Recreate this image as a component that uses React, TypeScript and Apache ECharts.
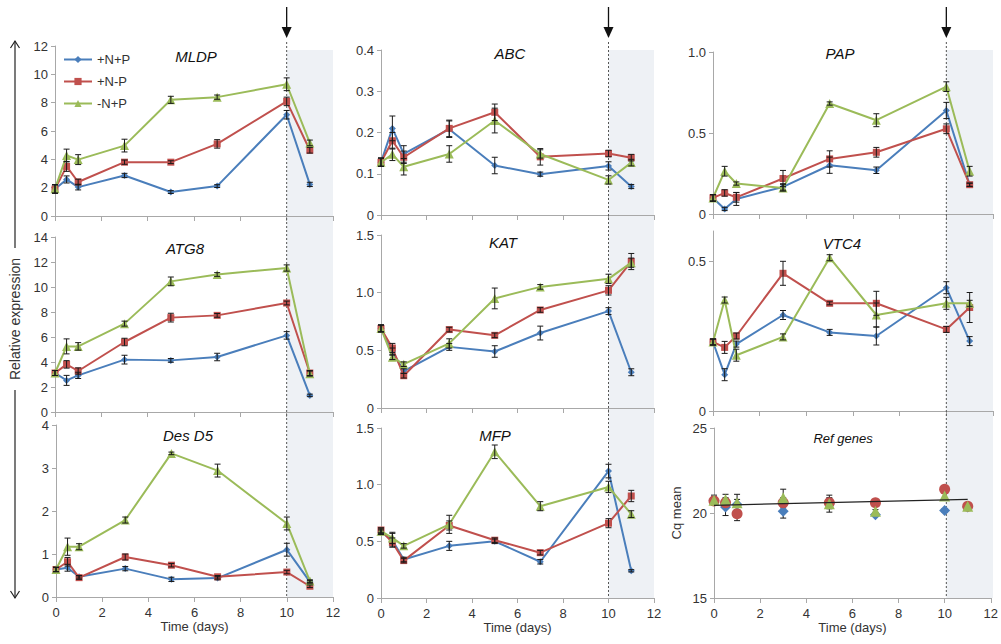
import React, { useEffect, useRef } from "react";
import * as echarts from "echarts";

// ---- data ----
const DAYS = [0, 0.5, 1, 3, 5, 7, 10, 11];
const TREATMENTS = ["+N+P", "+N-P", "-N+P"];

const mldp_pNpP = [1.9, 2.58, 2.04, 2.86, 1.69, 2.11, 7.15, 2.23];
const mldp_pNmP = [1.9, 3.5, 2.4, 3.8, 3.8, 5.09, 8.09, 4.64];
const mldp_mNpP = [1.92, 4.27, 3.98, 4.97, 8.2, 8.39, 9.3, 5.16];
const mldp_err_pNpP = [0.3, 0.25, 0.2, 0.15, 0.1, 0.1, 0.3, 0.15];
const mldp_err_pNmP = [0.3, 0.35, 0.2, 0.15, 0.1, 0.3, 0.3, 0.2];
const mldp_err_mNpP = [0.3, 0.45, 0.35, 0.45, 0.25, 0.15, 0.45, 0.2];

const abc_pNpP = [0.128, 0.21, 0.148, 0.208, 0.12, 0.099, 0.119, 0.069];
const abc_pNmP = [0.128, 0.18, 0.14, 0.21, 0.249, 0.141, 0.149, 0.139];
const abc_mNpP = [0.128, 0.147, 0.117, 0.148, 0.229, 0.148, 0.085, 0.127];
const abc_err_pNpP = [0.01, 0.03, 0.02, 0.02, 0.02, 0.005, 0.01, 0.005];
const abc_err_pNmP = [0.01, 0.02, 0.015, 0.02, 0.02, 0.02, 0.008, 0.008];
const abc_err_mNpP = [0.01, 0.015, 0.02, 0.02, 0.03, 0.01, 0.01, 0.008];

const pap_pNpP = [0.099, 0.031, 0.093, 0.167, 0.301, 0.27, 0.639, 0.18];
const pap_pNmP = [0.1, 0.13, 0.103, 0.219, 0.34, 0.381, 0.526, 0.181];
const pap_mNpP = [0.099, 0.264, 0.188, 0.161, 0.682, 0.579, 0.786, 0.264];
const pap_err_pNpP = [0.02, 0.01, 0.04, 0.02, 0.05, 0.02, 0.05, 0.01];
const pap_err_pNmP = [0.02, 0.02, 0.03, 0.05, 0.05, 0.03, 0.03, 0.01];
const pap_err_mNpP = [0.02, 0.03, 0.01, 0.02, 0.01, 0.04, 0.03, 0.03];

const atg8_pNpP = [3.12, 2.53, 2.93, 4.19, 4.13, 4.4, 6.13, 1.33];
const atg8_pNmP = [3.12, 3.81, 3.28, 5.6, 7.55, 7.73, 8.72, 3.12];
const atg8_mNpP = [3.12, 5.25, 5.25, 7.07, 10.45, 11.0, 11.52, 3.07];
const atg8_err_pNpP = [0.2, 0.4, 0.25, 0.35, 0.15, 0.3, 0.3, 0.1];
const atg8_err_pNmP = [0.2, 0.3, 0.25, 0.3, 0.35, 0.15, 0.15, 0.2];
const atg8_err_mNpP = [0.2, 0.6, 0.3, 0.2, 0.35, 0.15, 0.25, 0.2];

const kat_pNpP = [0.69, 0.49, 0.32, 0.53, 0.49, 0.65, 0.84, 0.31];
const kat_pNmP = [0.69, 0.52, 0.28, 0.68, 0.63, 0.85, 1.02, 1.27];
const kat_mNpP = [0.69, 0.44, 0.38, 0.56, 0.95, 1.05, 1.12, 1.26];
const kat_err_pNpP = [0.03, 0.03, 0.02, 0.03, 0.05, 0.06, 0.03, 0.03];
const kat_err_pNmP = [0.03, 0.04, 0.02, 0.02, 0.02, 0.02, 0.04, 0.07];
const kat_err_mNpP = [0.03, 0.02, 0.02, 0.04, 0.09, 0.02, 0.04, 0.04];

const vtc4_pNpP = [0.23, 0.121, 0.223, 0.32, 0.262, 0.25, 0.411, 0.233];
const vtc4_pNmP = [0.23, 0.212, 0.25, 0.459, 0.359, 0.359, 0.272, 0.345];
const vtc4_mNpP = [0.23, 0.37, 0.186, 0.247, 0.511, 0.32, 0.359, 0.359];
const vtc4_err_pNpP = [0.01, 0.02, 0.01, 0.015, 0.01, 0.03, 0.02, 0.015];
const vtc4_err_pNmP = [0.01, 0.02, 0.01, 0.04, 0.005, 0.04, 0.01, 0.05];
const vtc4_err_mNpP = [0.01, 0.01, 0.02, 0.01, 0.01, 0.04, 0.02, 0.01];

const desd5_pNpP = [0.64, 0.68, 0.47, 0.66, 0.41, 0.44, 1.1, 0.35];
const desd5_pNmP = [0.64, 0.82, 0.45, 0.93, 0.74, 0.47, 0.58, 0.25];
const desd5_mNpP = [0.64, 1.17, 1.17, 1.79, 3.34, 2.94, 1.71, 0.37];
const desd5_err_pNpP = [0.05, 0.08, 0.03, 0.05, 0.05, 0.04, 0.15, 0.03];
const desd5_err_pNmP = [0.05, 0.1, 0.04, 0.07, 0.04, 0.03, 0.04, 0.03];
const desd5_err_mNpP = [0.05, 0.2, 0.07, 0.07, 0.03, 0.15, 0.15, 0.03];

const mfp_pNpP = [0.58, 0.51, 0.34, 0.46, 0.5, 0.32, 1.12, 0.24];
const mfp_pNmP = [0.6, 0.49, 0.33, 0.64, 0.51, 0.4, 0.66, 0.9];
const mfp_mNpP = [0.59, 0.53, 0.46, 0.65, 1.29, 0.81, 0.98, 0.74];
const mfp_err_pNpP = [0.02, 0.06, 0.02, 0.04, 0.02, 0.02, 0.06, 0.01];
const mfp_err_pNmP = [0.02, 0.04, 0.02, 0.04, 0.02, 0.02, 0.04, 0.05];
const mfp_err_mNpP = [0.02, 0.05, 0.02, 0.08, 0.06, 0.04, 0.05, 0.03];

const ref_pNpP = [20.75, 20.35, 20.5, 20.1, 20.55, 19.9, 20.15, 20.35];
const ref_pNmP = [20.7, 20.6, 19.95, 20.6, 20.6, 20.6, 21.4, 20.4];
const ref_mNpP = [20.75, 20.8, 20.6, 20.9, 20.55, 20.1, 21.0, 20.4];
const ref_err_pNpP = [0.3, 0.5, 0.3, 0.4, 0.3, 0.1, 0.1, 0.1];
const ref_err_pNmP = [0.2, 0.3, 0.4, 0.3, 0.3, 0.1, 0.2, 0.1];
const ref_err_mNpP = [0.2, 0.3, 0.5, 0.5, 0.5, 0.1, 0.2, 0.1];
const ref_trend_x = [0, 11];
const ref_trend_y = [20.45, 20.8];

const GENES = ["MLDP", "ABC", "PAP", "ATG8", "KAT", "VTC4", "Des D5", "MFP", "Ref genes"];
const VALUES = [
  [mldp_pNpP, mldp_pNmP, mldp_mNpP],
  [abc_pNpP, abc_pNmP, abc_mNpP],
  [pap_pNpP, pap_pNmP, pap_mNpP],
  [atg8_pNpP, atg8_pNmP, atg8_mNpP],
  [kat_pNpP, kat_pNmP, kat_mNpP],
  [vtc4_pNpP, vtc4_pNmP, vtc4_mNpP],
  [desd5_pNpP, desd5_pNmP, desd5_mNpP],
  [mfp_pNpP, mfp_pNmP, mfp_mNpP],
  [ref_pNpP, ref_pNmP, ref_mNpP],
];
const ERRORS = [
  [mldp_err_pNpP, mldp_err_pNmP, mldp_err_mNpP],
  [abc_err_pNpP, abc_err_pNmP, abc_err_mNpP],
  [pap_err_pNpP, pap_err_pNmP, pap_err_mNpP],
  [atg8_err_pNpP, atg8_err_pNmP, atg8_err_mNpP],
  [kat_err_pNpP, kat_err_pNmP, kat_err_mNpP],
  [vtc4_err_pNpP, vtc4_err_pNmP, vtc4_err_mNpP],
  [desd5_err_pNpP, desd5_err_pNmP, desd5_err_mNpP],
  [mfp_err_pNpP, mfp_err_pNmP, mfp_err_mNpP],
  [ref_err_pNpP, ref_err_pNmP, ref_err_mNpP],
];
// y-axis ranges: [min, max, interval, tick values]
const Y_AXES = [
  [0, 12, 2, [0, 2, 4, 6, 8, 10, 12]],
  [0, 0.4, 0.1, [0, 0.1, 0.2, 0.3, 0.4]],
  [0, 1.0, 0.5, [0, 0.5, 1.0]],
  [0, 14, 2, [0, 2, 4, 6, 8, 10, 12, 14]],
  [0, 1.5, 0.5, [0, 0.5, 1.0, 1.5]],
  [0, 0.6, 0.1, [0, 0.5]],
  [0, 4, 1, [0, 1, 2, 3, 4]],
  [0, 1.5, 0.5, [0, 0.5, 1.0, 1.5]],
  [15, 25, 5, [15, 20, 25]],
];
const X_TICKS = [0, 2, 4, 6, 8, 10, 12];
const SHADE_FROM = 10;
const SHADE_TO = 12;

// ---- layout & style ----
const GRIDS = [
  { left: 55, top: 46, width: 278, height: 170 },
  { left: 381, top: 50, width: 273, height: 165 },
  { left: 713, top: 52, width: 280, height: 162 },
  { left: 55, top: 237, width: 278, height: 175 },
  { left: 381, top: 235, width: 273, height: 173 },
  { left: 713, top: 231, width: 280, height: 180 },
  { left: 56, top: 425, width: 277, height: 172 },
  { left: 381, top: 428, width: 273, height: 170 },
  { left: 714, top: 428, width: 279, height: 170 },
];
const TITLE_POS = [
  [196, 56], [510, 53], [840, 53],
  [185, 248], [503, 242], [842, 243],
  [188, 435], [495, 435], [843, 438],
];
const COLORS = ["#4a7ebb", "#c0504d", "#9bbb59"];
const SYMBOLS = ["diamond", "rect", "triangle"];
const REF_SYMBOLS = ["diamond", "circle", "triangle"];
const FONT = "Liberation Sans, Arial, Helvetica, sans-serif";
const AXIS_COLOR = "#a8a8a8";
const TEXT_COLOR = "#333";

function fmtTick(v: number, interval: number) {
  if (v === 0) return "0";
  if (interval < 1) return v.toFixed(1);
  return String(v);
}

export default function App() {
  const ref = useRef<HTMLDivElement>(null);
  useEffect(() => {
    if (!ref.current) return;
    const chart = echarts.init(ref.current, null, { renderer: "svg" });

    const xAxis: any[] = [];
    const yAxis: any[] = [];
    const series: any[] = [];
    const graphic: any[] = [];

    GRIDS.forEach((g, p) => {
      const row = Math.floor(p / 3);
      xAxis.push({
        type: "value",
        gridIndex: p,
        min: 0,
        max: 12,
        interval: 2,
        axisLine: { show: true, lineStyle: { color: AXIS_COLOR } },
        axisTick: { show: true, length: 5, lineStyle: { color: AXIS_COLOR }, customValues: X_TICKS },
        axisLabel: {
          show: row === 2,
          color: TEXT_COLOR,
          fontSize: 13,
          fontFamily: FONT,
          margin: 9,
          customValues: X_TICKS,
        },
        splitLine: { show: false },
        name: row === 2 ? "Time (days)" : "",
        nameLocation: "middle",
        nameGap: 22,
        nameTextStyle: { color: TEXT_COLOR, fontSize: 13, fontFamily: FONT },
      });
      const [mn, mx, iv, ticks] = Y_AXES[p] as [number, number, number, number[]];
      yAxis.push({
        type: "value",
        gridIndex: p,
        min: mn,
        max: mx,
        interval: iv,
        axisLine: { show: true, lineStyle: { color: AXIS_COLOR } },
        axisTick: { show: true, length: 4, lineStyle: { color: AXIS_COLOR }, customValues: ticks },
        axisLabel: {
          color: TEXT_COLOR,
          fontSize: 13,
          fontFamily: FONT,
          margin: 7,
          customValues: ticks,
          formatter: (v: number) => fmtTick(v, (Y_AXES[p][2] as number)),
        },
        splitLine: { show: false },
        name: p === 8 ? "Cq mean" : "",
        nameLocation: "middle",
        nameGap: 31,
        nameTextStyle: { color: TEXT_COLOR, fontSize: 13, fontFamily: FONT },
      });

      const isRef = p === 8;
      TREATMENTS.forEach((name, t) => {
        const vals = VALUES[p][t];
        series.push({
          type: isRef ? "scatter" : "line",
          name,
          xAxisIndex: p,
          yAxisIndex: p,
          data: DAYS.map((d, i) => [d, vals[i]]),
          symbol: isRef ? REF_SYMBOLS[t] : SYMBOLS[t],
          symbolSize: isRef ? 11 : t === 2 ? 9 : 7,
          itemStyle: { color: COLORS[t], opacity: 1 },
          lineStyle: { color: COLORS[t], width: 2 },
          z: 3 + t,
        });
      });
      const errData: number[][] = [];
      TREATMENTS.forEach((_, t) => {
        const vals = VALUES[p][t];
        const errs = ERRORS[p][t];
        DAYS.forEach((d, i) => {
          if (errs[i] > 0) errData.push([d, vals[i] - errs[i], vals[i] + errs[i]]);
        });
      });
      series.push({
        type: "custom",
        name: "err" + p,
        xAxisIndex: p,
        yAxisIndex: p,
        data: errData,
        z: isRef ? 2 : 8,
        silent: true,
        renderItem: (params: any, api: any) => {
          const x = api.value(0);
          const lo = api.coord([x, api.value(1)]);
          const hi = api.coord([x, api.value(2)]);
          const w = 3;
          const style = { stroke: "#1a1a1a", lineWidth: 1 };
          return {
            type: "group",
            children: [
              { type: "line", shape: { x1: lo[0], y1: lo[1], x2: hi[0], y2: hi[1] }, style },
              { type: "line", shape: { x1: hi[0] - w, y1: hi[1], x2: hi[0] + w, y2: hi[1] }, style },
              { type: "line", shape: { x1: lo[0] - w, y1: lo[1], x2: lo[0] + w, y2: lo[1] }, style },
            ],
          };
        },
      });
      if (isRef) {
        series.push({
          type: "line",
          name: "trend",
          xAxisIndex: p,
          yAxisIndex: p,
          data: ref_trend_x.map((x, i) => [x, ref_trend_y[i]]),
          symbol: "none",
          lineStyle: { color: "#222", width: 1.2 },
          z: 9,
        });
      }

      graphic.push({
        type: "text",
        x: TITLE_POS[p][0],
        y: TITLE_POS[p][1],
        style: {
          text: GENES[p],
          fontSize: isRef ? 13 : 15,
          fontStyle: "italic",
          fontFamily: FONT,
          fill: "#111",
          textAlign: "center",
          textVerticalAlign: "middle",
        },
        z: 10,
      });
    });

    // shaded post-period column, dotted line and arrow for each column
    for (let c = 0; c < 3; c++) {
      const gTop = GRIDS[c];
      const gBot = GRIDS[6 + c];
      const x10 = gTop.left + (gTop.width * SHADE_FROM) / 12;
      const x12 = gTop.left + (gTop.width * SHADE_TO) / 12;
      const yTop = 50;
      const yBot = gBot.top + gBot.height;
      graphic.push({
        type: "rect",
        shape: { x: x10, y: yTop, width: x12 - x10, height: yBot - yTop },
        style: { fill: "#eef1f5" },
        z: -5,
        silent: true,
      });
      graphic.push({
        type: "line",
        shape: { x1: x10, y1: 42, x2: x10, y2: yBot },
        style: { stroke: "#555", lineWidth: 1, lineDash: [2, 2] },
        z: 1,
        silent: true,
      });
      graphic.push({
        type: "line",
        shape: { x1: x10, y1: 7, x2: x10, y2: 29 },
        style: { stroke: "#111", lineWidth: 1.3 },
        z: 10,
      });
      graphic.push({
        type: "polygon",
        shape: { points: [[x10 - 5, 27], [x10 + 5, 27], [x10, 38]] },
        style: { fill: "#111" },
        z: 10,
      });
    }

    // left "Relative expression" double arrow
    const ax = 15;
    graphic.push(
      { type: "line", shape: { x1: ax, y1: 41, x2: ax, y2: 248 }, style: { stroke: "#222", lineWidth: 1.2 } },
      { type: "line", shape: { x1: ax, y1: 390, x2: ax, y2: 598 }, style: { stroke: "#222", lineWidth: 1.2 } },
      { type: "polyline", shape: { points: [[ax - 4.5, 48], [ax, 41], [ax + 4.5, 48]] }, style: { stroke: "#222", lineWidth: 1.2, fill: "none" } },
      { type: "polyline", shape: { points: [[ax - 4.5, 591], [ax, 598], [ax + 4.5, 591]] }, style: { stroke: "#222", lineWidth: 1.2, fill: "none" } },
      {
        type: "text",
        x: ax,
        y: 319,
        rotation: Math.PI / 2,
        style: {
          text: "Relative expression",
          fontSize: 14,
          fontFamily: FONT,
          fill: TEXT_COLOR,
          textAlign: "center",
          textVerticalAlign: "middle",
        },
      }
    );

    chart.setOption({
      animation: false,
      backgroundColor: "#fff",
      grid: GRIDS.map((g) => ({ ...g, containLabel: false })),
      xAxis,
      yAxis,
      series,
      graphic,
      legend: {
        data: TREATMENTS,
        orient: "vertical",
        left: 58,
        top: 48,
        itemWidth: 28,
        itemHeight: 9,
        itemGap: 9,
        textStyle: { color: TEXT_COLOR, fontSize: 13, fontFamily: FONT },
        selectedMode: false,
      },
    });
    return () => chart.dispose();
  }, []);
  return (
    <div
      ref={ref}
      style={{ position: "absolute", left: 0, top: 0, width: 1001, height: 644, background: "#fff" }}
    />
  );
}
